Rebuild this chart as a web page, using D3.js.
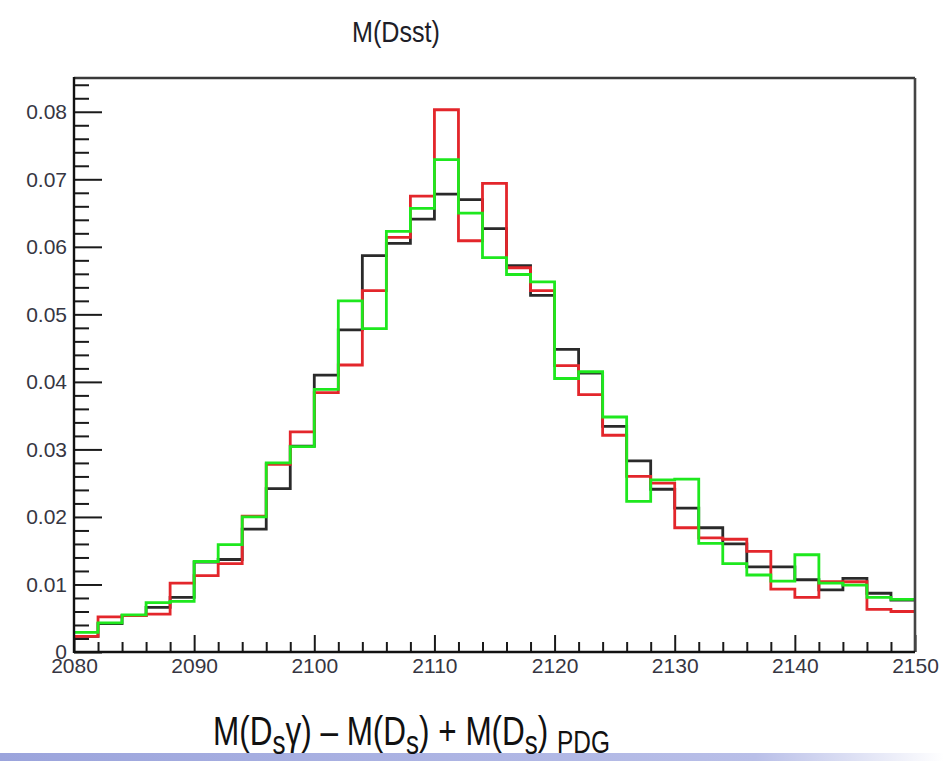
<!DOCTYPE html>
<html>
<head>
<meta charset="utf-8">
<script src="https://cdn.jsdelivr.net/npm/d3@7"></script>
<style>
  html, body { margin: 0; padding: 0; background: #fff; }
  svg { display: block; }
  text { font-family: "Liberation Sans", Arial, Helvetica, sans-serif; }
</style>
</head>
<body>
<svg id="chart" width="944" height="761"></svg>
<script>
// Lower edges of the 2 MeV mass bins
const binLow = [2080, 2082, 2084, 2086, 2088, 2090, 2092, 2094, 2096, 2098,
                2100, 2102, 2104, 2106, 2108, 2110, 2112, 2114, 2116, 2118,
                2120, 2122, 2124, 2126, 2128, 2130, 2132, 2134, 2136, 2138,
                2140, 2142, 2144, 2146, 2148];
const binWidth = 2;

// Normalised bin contents for the three samples
const blackValues = [0.0023, 0.0042, 0.0054, 0.0066, 0.0081, 0.0133, 0.0137, 0.0182, 0.0242, 0.0305,
                     0.0410, 0.0477, 0.0587, 0.0605, 0.0641, 0.0678, 0.0670, 0.0627, 0.0572, 0.0528,
                     0.0448, 0.0413, 0.0334, 0.0283, 0.0241, 0.0213, 0.0184, 0.0160, 0.0126, 0.0126,
                     0.0107, 0.0092, 0.0109, 0.0087, 0.0077];
const redValues   = [0.0023, 0.0052, 0.0054, 0.0056, 0.0102, 0.0113, 0.0131, 0.0201, 0.0278, 0.0326,
                     0.0384, 0.0425, 0.0535, 0.0614, 0.0675, 0.0803, 0.0609, 0.0694, 0.0569, 0.0535,
                     0.0424, 0.0381, 0.0321, 0.0260, 0.0250, 0.0184, 0.0169, 0.0167, 0.0149, 0.0093,
                     0.0081, 0.0104, 0.0104, 0.0063, 0.0060];
const greenValues = [0.0029, 0.0043, 0.0055, 0.0073, 0.0075, 0.0134, 0.0159, 0.0200, 0.0280, 0.0304,
                     0.0389, 0.0520, 0.0479, 0.0623, 0.0657, 0.0729, 0.0650, 0.0584, 0.0559, 0.0548,
                     0.0405, 0.0415, 0.0348, 0.0223, 0.0255, 0.0256, 0.0161, 0.0131, 0.0114, 0.0105,
                     0.0144, 0.0102, 0.0099, 0.0081, 0.0078];

const xMajorTicks = [2080, 2090, 2100, 2110, 2120, 2130, 2140, 2150];
const yMajorTicks = [0, 0.01, 0.02, 0.03, 0.04, 0.05, 0.06, 0.07, 0.08];

const svg = d3.select("#chart");
const frameLeft = 74, frameRight = 915, frameTop = 78, frameBottom = 652;

const x = d3.scaleLinear().domain([2080, 2150]).range([frameLeft, frameRight]);
const y = d3.scaleLinear().domain([0, 0.085]).range([frameBottom, frameTop]);

// Decorative band along the bottom of the slide
const defs = svg.append("defs");
const grad = defs.append("linearGradient").attr("id", "band").attr("x1", 0).attr("x2", 1);
grad.append("stop").attr("offset", 0).attr("stop-color", "#9ba4dc");
grad.append("stop").attr("offset", 0.8).attr("stop-color", "#b9bfe8");
grad.append("stop").attr("offset", 1).attr("stop-color", "#ffffff");
svg.append("rect").attr("x", 0).attr("y", 753).attr("width", 944).attr("height", 8)
   .attr("fill", "url(#band)");

// Minor ticks (every bin edge / every 0.002)
const xMinor = binLow.concat([2150]).filter(v => !xMajorTicks.includes(v));
const yMinor = d3.range(1, 43).map(i => +(i * 0.002).toFixed(3))
                 .filter(v => !yMajorTicks.some(t => Math.abs(t - v) < 1e-9));

const xMinorAxis = svg.append("g").attr("transform", `translate(0,${frameBottom})`)
  .call(d3.axisBottom(x).tickValues(xMinor).tickSize(-10).tickFormat(""));
const xAxis = svg.append("g").attr("transform", `translate(0,${frameBottom})`)
  .call(d3.axisBottom(x).tickValues(xMajorTicks).tickSize(-17).tickPadding(6)
        .tickFormat(d3.format("d")));
const yMinorAxis = svg.append("g").attr("transform", `translate(${frameLeft},0)`)
  .call(d3.axisLeft(y).tickValues(yMinor).tickSize(-15).tickFormat(""));
const yAxis = svg.append("g").attr("transform", `translate(${frameLeft},0)`)
  .call(d3.axisLeft(y).tickValues(yMajorTicks).tickSize(-28).tickPadding(7)
        .tickFormat(d => d === 0 ? "0" : d3.format(".2f")(d)));

[xMinorAxis, xAxis, yMinorAxis, yAxis].forEach(g => {
  g.select(".domain").remove();
  g.selectAll(".tick line").attr("stroke", "#1a1a1a").attr("stroke-width", 2);
  g.selectAll("text").attr("fill", "#363642").attr("font-size", 21);
});

// Histogram outlines drawn as steps from the bin contents
const stepLine = d3.line().x(d => x(d[0])).y(d => y(d[1])).curve(d3.curveStepAfter);
function drawHist(values, color) {
  const pts = values.map((v, i) => [binLow[i], v]);
  pts.push([binLow[binLow.length - 1] + binWidth, values[values.length - 1]]);
  svg.append("path").datum(pts).attr("d", stepLine)
     .attr("fill", "none").attr("stroke", color).attr("stroke-width", 2.8)
     .attr("stroke-linejoin", "miter");
}
drawHist(blackValues, "#2a2a2a");
drawHist(redValues, "#e3262b");
drawHist(greenValues, "#1ee81e");

// Frame
svg.append("line").attr("x1", frameLeft).attr("x2", frameRight).attr("y1", frameTop).attr("y2", frameTop)
   .attr("stroke", "#3a3a3a").attr("stroke-width", 2.4);
svg.append("line").attr("x1", frameRight).attr("x2", frameRight).attr("y1", frameTop).attr("y2", frameBottom)
   .attr("stroke", "#444").attr("stroke-width", 2.6);
svg.append("line").attr("x1", frameLeft).attr("x2", frameLeft).attr("y1", frameTop - 1).attr("y2", frameBottom + 1)
   .attr("stroke", "#111").attr("stroke-width", 2.4);
svg.append("line").attr("x1", frameLeft).attr("x2", frameRight).attr("y1", frameBottom).attr("y2", frameBottom)
   .attr("stroke", "#111").attr("stroke-width", 2.4);

// Title
const title = svg.append("g").attr("transform", "translate(396,42)");
title.append("text").attr("text-anchor", "middle")
   .attr("font-size", 29).attr("fill", "#1e1e28")
   .text("M(Dsst)");
const tw = title.select("text").node().getComputedTextLength();
title.select("text").attr("transform", `scale(${88 / tw},1)`);

// Axis title with subscripts, narrowed to its printed width
const xtG = svg.append("g").attr("transform", "translate(213,745)");
const xt = xtG.append("text").attr("font-size", 40).attr("fill", "#111");
const parts = [
  ["M(D", 0, 40], ["s", 9, 33], ["γ) – M(D", -9, 40], ["s", 9, 33],
  [") + M(D", -9, 40], ["s", 9, 33], [") ", -9, 40], ["PDG", 8, 31]
];
parts.forEach(([t, dy, fs]) => xt.append("tspan").attr("dy", dy).attr("font-size", fs).text(t));
const xw = xt.node().getComputedTextLength();
xt.attr("transform", `scale(${397 / xw},1)`);
</script>
</body>
</html>
